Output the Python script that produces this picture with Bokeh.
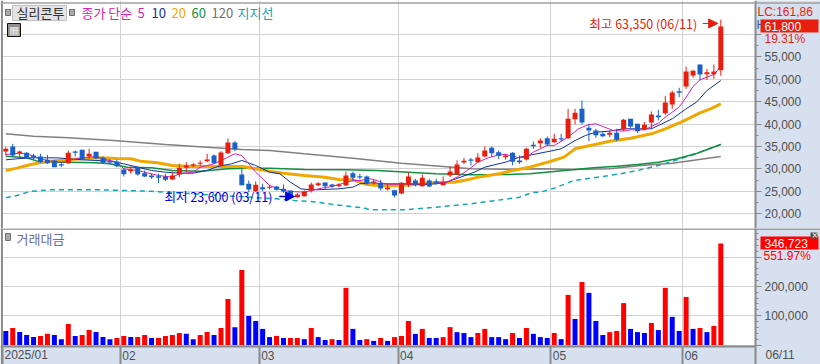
from bokeh.plotting import figure
from bokeh.layouts import column
from bokeh.models import (Range1d, FixedTicker, Grid, Label, BoxAnnotation, Arrow, NormalHead,
                          ColumnDataSource, Span)
from bokeh.embed import file_html
from bokeh.resources import INLINE

# ---------------- data ----------------
open_ = [33900,35020,33530,33610,33010,32790,32050,31900,31080,31300,
         33910,34280,32790,33830,32490,31750,31670,29890,29520,30410,
         29070,28550,28400,28330,27660,28770,30260,30780,31150,31750,
         33010,30780,33530,35920,28770,26690,25050,25950,25800,26090,
         25570,25200,23710,23940,25200,26390,26990,26540,26170,26320,
         29070,28400,28330,26910,26840,25500,25280,24530,26540,27430,
         26170,27430,27210,26390,28550,28770,31450,32120,31530,32790,
         34720,33760,32640,33610,31900,32120,35390,35770,36880,35990,
         36880,36880,41120,43430,39190,38590,37850,37630,38070,38820,
         41200,40080,38820,40380,41940,42460,44400,47370,48420,50870,
         53330,51170,51170,52060]
high = [34880,35620,34130,33760,33390,33390,33160,32050,31530,34130,
        34130,34280,34500,33830,32790,32270,32050,30190,30560,30560,
        29670,28920,28920,28920,29440,31150,31530,31300,31900,33390,
        33240,33980,36810,36210,30040,27430,27210,26690,26470,26170,
        26540,25200,24610,25200,26990,27060,26990,26690,26840,29440,
        29440,28920,28550,27580,27580,26690,25350,27060,29290,27810,
        28770,27810,27810,28330,30560,31900,32490,32490,33530,35020,
        35020,34130,33390,33760,33010,34720,36140,36880,37250,37850,
        37850,43430,43430,45290,40080,38970,38220,38590,38970,41200,
        41200,40080,40450,42840,43210,46330,47520,48120,52880,52140,
        53330,52360,53330,63350]
low = [33010,32790,32270,32490,32120,31380,31150,30410,30410,31150,
       32790,32050,32270,32270,31150,31000,30410,28330,28920,28550,
       28180,27810,26840,27280,27580,28180,29290,30410,30630,31530,
       31150,30560,33390,33980,26320,24830,24830,25050,25420,25200,
       24680,23800,23600,23860,24750,26170,25570,25800,25950,26240,
       27280,27660,26470,26540,25200,25200,23640,24380,25950,26090,
       26090,25950,26540,26320,28180,28700,31150,30780,31380,32640,
       32640,32200,32050,30860,31150,31900,34500,34720,35170,35840,
       36210,36730,39930,39930,36210,36960,37110,37110,36210,38450,
       39190,38000,38670,38970,40830,42020,43430,46030,47890,50350,
       49750,49900,50130,50800]
close = [34500,33010,33910,32640,32640,31530,31300,30410,30780,33610,
         33610,32190,33390,32340,31380,31450,30630,28850,29810,28770,
         28330,28180,28030,27580,28550,30260,30780,31080,31380,32120,
         31300,33680,35920,34430,26390,25420,26470,25500,26020,25350,
         24980,24000,24310,24980,26540,26840,26170,26090,26540,28550,
         28030,28100,26840,27210,25650,25870,24090,26910,28330,26540,
         28030,26090,26840,26990,29440,31000,31820,31820,32570,34130,
         33530,32940,33010,31600,31530,34500,35100,36360,35470,36730,
         36590,41200,42540,40380,38590,37550,37330,38070,36510,40980,
         39490,38450,39860,42170,41570,44840,47080,47000,51760,51910,
         51090,51610,51760,61800]
volume = [48000,58000,44000,34000,27000,31000,38000,34000,20000,72000,
          31000,34000,51000,44000,27000,20000,24000,31000,27000,27000,
          34000,24000,24000,31000,34000,41000,38000,20000,34000,44000,
          34000,58000,157000,61000,256000,99000,82000,55000,27000,31000,
          24000,24000,24000,20000,58000,27000,17000,20000,17000,195000,
          55000,17000,20000,14000,24000,14000,27000,31000,82000,38000,
          55000,24000,24000,27000,61000,44000,41000,27000,41000,55000,
          27000,27000,20000,41000,24000,58000,38000,27000,24000,41000,
          20000,171000,89000,215000,178000,82000,34000,44000,48000,143000,
          55000,44000,41000,75000,51000,195000,96000,48000,164000,55000,
          58000,44000,65000,346723]
volume_side = ("brbbbrrbbr" "brrbbbrrbr" "rbrrrrbbrr" "brrbrbbbbr" "brrbrbbrbr"
               "bbrbrbrrrb" "rbbrrbbbrr" "bbbrbrbbbr" "brbrbbbrrr" "bbbrbrbbrb" "rbrr")

ma5_x = [0,2,3.3,5,6.5,8,9,11,13,14,16,17,19,20,22,24,25,27,28,30,32,33,34,35,36,38,39,40,41,43,44,45.5,47,48,50,51,52.5,53.5,54.5,56,57,59,61,62,63.5,65,66.5,68,69.5,71,72,74,75,76,78,79,81,82.5,84,85,86,87.5,89,90,92,94,95,97,98,99,100,101,102,103]
ma5_y = [33240,33530,33240,32270,31750,31530,31900,32490,32790,32270,31530,30040,29670,29290,28550,28180,28920,29290,30410,31150,32640,33390,33010,31150,29290,26320,25720,25200,24980,24830,25200,25720,26090,26540,27430,27430,27810,27430,26690,26540,26690,26690,26690,26840,27060,28180,29670,31530,32490,33160,33240,32490,32640,33760,35250,35250,37110,38970,39930,40080,39490,38590,38450,38740,38740,40230,41570,43800,46030,48420,49900,50500,51090,52890]
ma10_x = [0,1.6,3.5,5.5,7.4,9,11,13,15,17,19,21,23,25,27,29,30.5,32.5,34,36,38,39.5,41,42.5,44,45.5,48,50,51,52.5,55,57,60,62,63.5,65.5,67.5,69,72,74,76.5,78.4,80,82,83.5,85,87,89,91,93,94,96,98,99.5,101,103]
ma10_y = [32050,32270,32490,32490,32490,32270,32050,31900,31750,31150,30410,29670,29290,29070,29070,29670,30560,31150,31900,30780,29290,28920,27060,25570,25350,25420,25570,25950,26690,26910,26690,26690,26540,26690,27060,28180,29290,30410,31530,32640,33390,33980,34500,36360,37480,38220,38450,38970,38970,38970,39710,41200,43430,44920,47520,49750]
ma20_x = [0,1.6,3,4.5,6.4,8.8,11,13.6,16,18,19.4,21.8,24,26.6,29,32,34,36,38,40,43,46,48,50,52,54,57,60,62,64.5,66.5,68,71,73,75.5,78.4,80.4,82,84.7,87,90,93,95,97.6,100,101.5,103]
ma20_y = [29670,30190,30780,31300,31750,32050,32270,32490,32340,32270,31750,31380,30780,30560,30560,30560,30560,30040,29510,29070,28550,28180,27660,27580,26540,26240,26320,26690,26990,27060,27580,28180,28920,29670,30410,31680,32640,34500,35400,36210,36880,37850,38970,40680,42540,43430,44550]
ma60_x = [0,3,5,9,13,15,17.5,21,24,28,32,35,38,43,49,53.5,58,62,67,72,75.5,79,82,84.7,88,91,94,96.7,99.6,103]
ma60_y = [32860,32490,31530,31530,31380,31150,30410,30260,29670,29520,30040,30190,30190,29890,29810,29670,29290,28920,28700,28770,28920,29440,29890,30260,30630,31000,31530,32270,33530,35470]
ma120_x = [0,4,9,15.5,23,29,34,38,43,50,57,63,67,72,77,82,87,91.5,96,103]
ma120_y = [37850,37330,36960,36360,35470,34870,34350,34130,33390,32420,31300,30560,30040,29960,30040,29890,30040,30780,31300,32790]
support_x = [0,1.6,3.5,6.4,13.6,20.8,23,32,39,41.5,44,47.7,51.5,52.5,57.5,62,67,72,74,76,77,79,81.8,84.7,88.5,91.4,94,96.7,98.7,103]
support_y = [23560,24090,24980,25350,25350,25050,24830,24000,23340,22970,22750,22000,21330,20890,20890,21480,22230,23270,23710,24830,24830,25720,27430,28030,28920,29810,30780,32050,33010,35470]

price_ticks = [20000,25000,30000,35000,40000,45000,50000,55000,60000]
volume_ticks = [0,100000,200000,300000]
month_ticks = [-0.475,16.5,36.5,56.5,78.5,97.5,108]
month_labels = ["2025/01","02","03","04","05","06","06/11"]

# ---------------- layout ----------------
W, H1, H2 = 820, 228, 136
PANEL = "#D6E0EF"
GRID = "#D2D2D2"
AX = "#8A8A8A"
TICK_TXT = "#505050"
NUM_FONT = "Liberation Sans"
NUM_SIZE = "12px"
KR = "Noto Sans CJK KR"
x_rng = Range1d(-0.7635, 117.36)
EDGE_X = 108


def mk(height, y0, y1, xaxis):
    p = figure(width=W, height=height, output_backend="svg", toolbar_location=None,
               x_range=x_rng, y_range=Range1d(y0, y1),
               x_axis_location="below" if xaxis else None, y_axis_location="right",
               min_border_left=0, min_border_right=0, min_border_top=0, min_border_bottom=0,
               background_fill_color="white", border_fill_color=PANEL, outline_line_color=None)
    p.xgrid.visible = False
    p.ygrid.grid_line_color = GRID
    p.ygrid.grid_line_width = 1
    p.add_layout(Grid(dimension=0, ticker=FixedTicker(ticks=month_ticks[1:-1]),
                      grid_line_color=GRID, grid_line_width=1))
    ax = p.yaxis[0]
    ax.fixed_location = EDGE_X
    ax.axis_line_color = AX
    ax.axis_line_width = 2
    ax.major_tick_line_color = AX
    ax.minor_tick_line_color = AX
    ax.major_tick_in = 0
    ax.major_tick_out = 6
    ax.minor_tick_in = 0
    ax.minor_tick_out = 3
    ax.major_label_standoff = 3
    ax.major_label_text_color = TICK_TXT
    ax.major_label_text_font = NUM_FONT
    ax.major_label_text_font_size = NUM_SIZE
    return p


def lab(p, rx, ry, text, color, size="13px", font=KR):
    """A text at a page position inside its figure, in pixels from the figure's top-left corner."""
    p.add_layout(Label(x=rx, y=ry, x_units="canvas", y_units="canvas", text=text, text_color=color,
                       text_font=font, text_font_size=size, text_align="left", text_baseline="middle"))


def box(p, x0, x1, y0, y1, color, line=None):
    """Small panel furniture, in pixels from the figure's top-left corner."""
    p.add_layout(BoxAnnotation(left=x0, right=x1, top=y0, bottom=y1,
                               left_units="canvas", right_units="canvas", top_units="canvas", bottom_units="canvas",
                               fill_color=color, fill_alpha=1, line_color=line, line_width=1,
                               line_alpha=1 if line else 0, editable=False))


# ---------------- price panel ----------------
p1 = mk(H1, 16719, 67608, False)
p1.yaxis[0].ticker = FixedTicker(ticks=price_ticks, minor_ticks=[t + 2500 for t in price_ticks[:-1]])
p1.yaxis[0].major_label_overrides = {t: f"{t:,}" for t in price_ticks[:-1]} | {60000: ""}
p1.ygrid[0].ticker = FixedTicker(ticks=price_ticks)

p1.quad(left=EDGE_X, right=118, bottom=16000, top=68000, fill_color=PANEL, line_color=None)
p1.add_layout(Span(location=-0.56, dimension="height", line_color=AX, line_width=2))
p1.add_layout(Span(location=67050, dimension="width", line_color="#A0A0A0", line_width=1.5))

p1.line(support_x, support_y, line_color="#10A8B8", line_width=1.5, line_dash="5 4")
p1.line(ma120_x, ma120_y, line_color="#808080", line_width=1.5)
p1.line(ma60_x, ma60_y, line_color="#109040", line_width=1.5)
p1.line(ma20_x, ma20_y, line_color="#F0A800", line_width=3)
p1.line(ma10_x, ma10_y, line_color="#1030A0", line_width=1)
p1.line(ma5_x, ma5_y, line_color="#E020B0", line_width=1)

idx = list(range(len(close)))
C_UP, C_DN = "#E81E0E", "#1A60C8"
col = [C_UP if c >= o else C_DN for o, c in zip(open_, close)]
src = ColumnDataSource(dict(x=idx, o=open_, h=high, l=low, c=close,
                            top=[max(a, b) for a, b in zip(open_, close)],
                            bot=[min(a, b) for a, b in zip(open_, close)], col=col))
p1.segment("x", "h", "x", "l", source=src, line_color="col", line_width=1)
p1.vbar("x", 0.72, "bot", "top", source=src, fill_color="col", line_color=None)

# high / low call-outs
p1.add_layout(Arrow(end=NormalHead(size=9, fill_color="#E81E0E", line_color="#E81E0E"),
                    x_start=100.4, x_end=102.55, y_start=62480, y_end=62480, line_color="#E81E0E", line_width=1.2))
p1.add_layout(Arrow(end=NormalHead(size=9, fill_color="#0000E0", line_color="#0000E0"),
                    x_start=39.4, x_end=41.6, y_start=23860, y_end=23860, line_color="#0000E0", line_width=1.5))
p1.add_layout(Label(x=99.6, y=62480, text="최고 63,350 (06/11)", text_color="#E81E0E", text_font=KR,
                    text_font_size="12.5px", text_align="right", text_baseline="middle"))
p1.add_layout(Label(x=38.4, y=23860, text="최저 23,600 (03/11)", text_color="#0000E0", text_font=KR,
                    text_font_size="12.5px", text_align="right", text_baseline="middle"))

# header
box(p1, 5, 10, 9, 15, "#A8A8A8", "#707070")
box(p1, 12, 66, 5, 20, "#E4E4E4", "#C0C0C0")
lab(p1, 16, 12, "실리콘투", "#303030")
box(p1, 69, 74, 9, 15, "#A8A8A8", "#707070")
lab(p1, 81, 12, "종가 단순", "#E020B0")
lab(p1, 137, 12, "5", "#E020B0")
lab(p1, 151, 12, "10", "#1030A0")
lab(p1, 171, 12, "20", "#F0A800")
lab(p1, 191, 12, "60", "#109040")
lab(p1, 211, 12, "120", "#707070")
lab(p1, 237, 12, "지지선", "#10A8B8")
box(p1, 7, 20, 23, 36, "#909090", "#101010")
lab(p1, 8.5, 29.5, "▦", "#E8E8E8", size="11px", font="DejaVu Sans")

# right-hand read-outs
lab(p1, 757, 11, "LC:161,86", "#E81E0E", size=NUM_SIZE, font=NUM_FONT)
lab(p1, 756, 24, "H", "#1A60C8", size=NUM_SIZE, font=NUM_FONT)
box(p1, 760, 818, 19, 32, "#E81E0E")
lab(p1, 764, 26, "61,800", "#FFFFFF", size=NUM_SIZE, font=NUM_FONT)
lab(p1, 764, 38, "19.31%", "#E81E0E", size=NUM_SIZE, font=NUM_FONT)

# ---------------- traded-value panel ----------------
BASE = -4100
p2 = mk(H2, -66550, 397600, True)
p2.yaxis[0].bounds = (BASE, 397600)
p2.yaxis[0].ticker = FixedTicker(ticks=volume_ticks, minor_ticks=[t + 20000*k for t in volume_ticks for k in (1, 2, 3, 4)])
p2.yaxis[0].major_label_overrides = {0: "", 100000: "100,000", 200000: "200,000", 300000: ""}
p2.ygrid[0].ticker = FixedTicker(ticks=volume_ticks)

p2.quad(left=-1, right=118, bottom=-70000, top=BASE, fill_color=PANEL, line_color=None)
p2.quad(left=EDGE_X, right=118, bottom=-70000, top=400000, fill_color=PANEL, line_color=None)
p2.add_layout(Span(location=-0.56, dimension="height", line_color=AX, line_width=2))
p2.add_layout(Span(location=395900, dimension="width", line_color=AX, line_width=1.5))

vcol = ["#FF0000" if s == "r" else "#0000FF" for s in volume_side]
p2.vbar(idx, 0.72, 0, volume, fill_color=vcol, line_color=None)

xa = p2.xaxis[0]
xa.fixed_location = BASE
xa.bounds = (-0.7, EDGE_X)
xa.ticker = FixedTicker(ticks=month_ticks)
xa.major_label_overrides = {t: "" for t in month_ticks}
xa.axis_line_color = AX
xa.axis_line_width = 2
xa.major_tick_line_color = AX
xa.major_tick_line_width = 2
xa.minor_tick_line_color = None
xa.major_tick_in = 0
xa.major_tick_out = 18
for t, s in zip(month_ticks, month_labels):
    p2.add_layout(Label(x=t, y=126.5, x_units="data", y_units="canvas", x_offset=10 if s == "06/11" else 2,
                        text=s, text_color=TICK_TXT, text_font=NUM_FONT, text_font_size=NUM_SIZE,
                        text_align="left", text_baseline="middle"))

# p2's canvas starts 228 px down the page
box(p2, 5, 10, 5, 12, "#A8A8A8", "#707070")
lab(p2, 16, 9.5, "거래대금", "#6A6AA0")
box(p2, 760, 818, 8, 21, "#FF0000")
lab(p2, 764, 15, "346,723", "#FFFFFF", size=NUM_SIZE, font=NUM_FONT)
lab(p2, 763, 27, "551.97%", "#FF0000", size=NUM_SIZE, font=NUM_FONT)
box(p2, 810, 817, 4, 10, "#505050")
lab(p2, 811, 7, "×", "#FFFFFF", size="8px", font="DejaVu Sans")

page = column(p1, p2, spacing=0)
open("out.html", "w").write(file_html(page, INLINE))
